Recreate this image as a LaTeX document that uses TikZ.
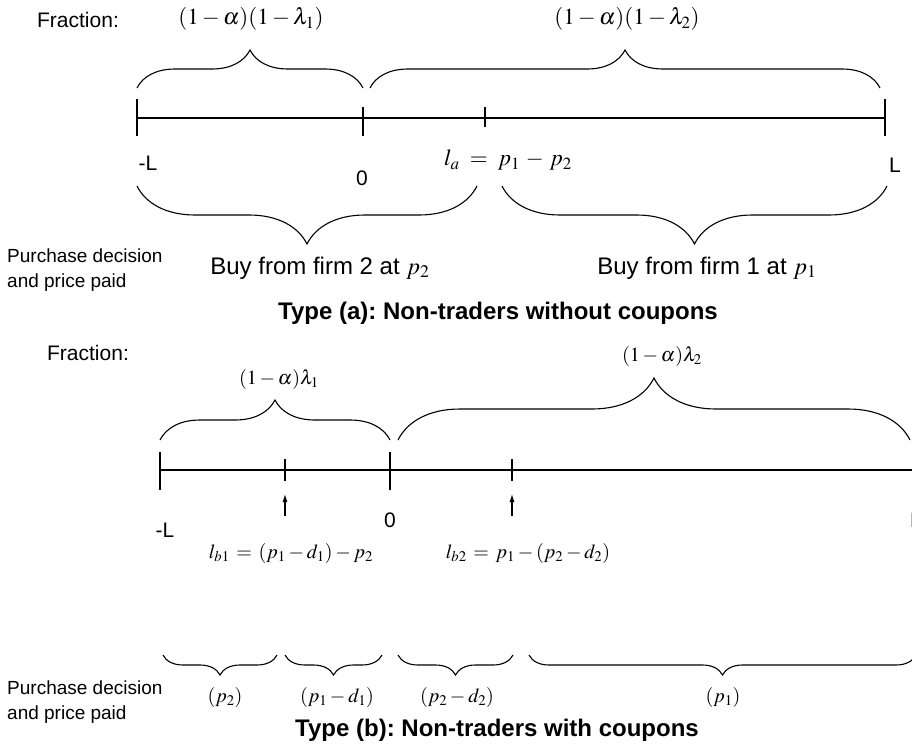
\documentclass[tikz,border=0pt]{standalone}
\usepackage{mathptmx}
\usepackage[no-math]{fontspec}
\setmainfont{Liberation Sans}
\frenchspacing
\usetikzlibrary{decorations.pathreplacing,arrows.meta}
\tikzset{
  axisline/.style={line width=1.7pt},
  tickmark/.style={line width=1.7pt},
  brc/.style={decorate,decoration={brace,amplitude=#1},line width=1.1pt},
  lbl/.style={inner sep=1pt,font=\fontsize{21}{25}\selectfont},
  buylbl/.style={inner sep=1pt,font=\fontsize{24}{28}\selectfont},
  small/.style={inner sep=1pt,font=\fontsize{19}{25}\selectfont},
  mlbl/.style={inner sep=1pt,font=\fontsize{23}{27}\selectfont},
  mlsmall/.style={inner sep=1pt,font=\fontsize{20}{23}\selectfont},
  title/.style={inner sep=1pt,font=\fontsize{24}{28}\selectfont\bfseries}
}
\begin{document}
\begin{tikzpicture}[x=1pt,y=-1pt,>={Latex[length=8pt,width=5pt]}]
  \useasboundingbox (0,0) rectangle (912,744);
  % Type (a)
  \node[lbl] (fracA) at (78,20) {Fraction:};
  \node[mlbl] (fracA1) at (251,19) {$(1-\alpha)(1-\lambda_1)$};
  \node[mlbl] (fracA2) at (627,19) {$(1-\alpha)(1-\lambda_2)$};
  \draw[brc=38] (137,88) -- (363,88);
  \draw[brc=38] (370,88) -- (880,88);
  \draw[axisline] (137,118) -- (885,118);
  \foreach \x in {137,885}
    \draw[tickmark] (\x,99) -- (\x,136);
  \draw[tickmark] (363,107) -- (363,136);
  \draw[tickmark] (485,107) -- (485,127);
  \node[lbl] (mLa) at (148,163) {-L};
  \node[lbl] (zeroA) at (362,178) {0};
  \node[mlbl] (la) at (508,160) {$l_a\;=\;p_1\,-\,p_2$};
  \node[lbl] (La) at (895,165) {L};
  \draw[brc=58] (477,186) -- (137,186);
  \draw[brc=58] (887,186) -- (502,186);
  \node[small,anchor=west,align=left] (pdA) at (6,270) {Purchase decision\\and price paid};
  \node[buylbl] (buy2) at (320,268) {Buy from firm 2 at $p_2$};
  \node[buylbl] (buy1) at (707,268) {Buy from firm 1 at $p_1$};
  \node[title] (typeA) at (498,313) {Type (a): Non-traders without coupons};
  % Type (b)
  \node[lbl] (fracB) at (88,353) {Fraction:};
  \node[mlsmall] (fracB1) at (279,379) {$(1-\alpha)\lambda_1$};
  \node[mlsmall] (fracB2) at (662,356) {$(1-\alpha)\lambda_2$};
  \draw[brc=40] (160,440) -- (390,440);
  \draw[brc=62] (398,440) -- (910,440);
  \draw[axisline] (160,470) -- (920,470);
  \foreach \x in {160,390}
    \draw[tickmark] (\x,452) -- (\x,490);
  \foreach \x in {285,512}
    \draw[tickmark] (\x,459) -- (\x,481);
  \coordinate (arr1) at (285,516);
  \coordinate (arr2) at (512,516);
  \draw[line width=1.1pt,->] (arr1) -- ++(0,-22);
  \draw[line width=1.1pt,->] (arr2) -- ++(0,-22);
  \node[lbl] (mLb) at (165,530) {-L};
  \node[lbl] (zeroB) at (390,520) {0};
  \node[lbl] (Lb) at (916,520) {L};
  \node[mlsmall] (lb1) at (291,553) {$l_{b1}\,=\,(p_1-d_1)-p_2$};
  \node[mlsmall] (lb2) at (528,553) {$l_{b2}\,=\,p_1-(p_2-d_2)$};
  \draw[brc=20] (277,655) -- (163,655);
  \draw[brc=20] (382,655) -- (285,655);
  \draw[brc=20] (513,655) -- (398,655);
  \draw[brc=20] (916,655) -- (529,655);
  \node[small,anchor=west,align=left] (pdB) at (6,702) {Purchase decision\\and price paid};
  \node[mlsmall] (pr1) at (225,697) {$(p_2)$};
  \node[mlsmall] (pr2) at (337,697) {$(p_1-d_1)$};
  \node[mlsmall] (pr3) at (457,697) {$(p_2-d_2)$};
  \node[mlsmall] (pr4) at (723,697) {$(p_1)$};
  \node[title] (typeB) at (497,730) {Type (b): Non-traders with coupons};
\end{tikzpicture}
\end{document}
